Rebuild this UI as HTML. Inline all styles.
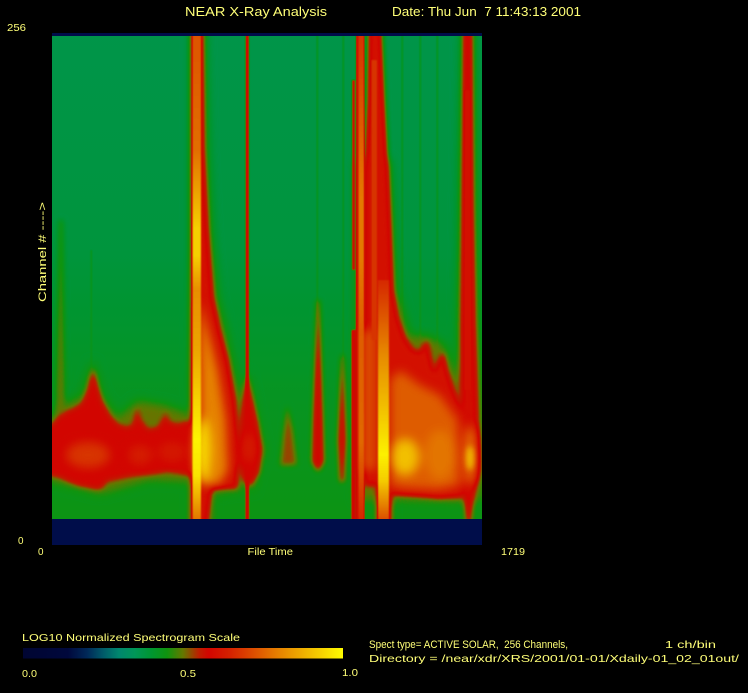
<!DOCTYPE html>
<html><head><meta charset="utf-8"><style>
html,body{margin:0;padding:0;background:#000;width:748px;height:693px;overflow:hidden}
svg{display:block}
text{font-family:"Liberation Sans",sans-serif;fill:#ffff78}
</style></head><body>
<svg width="748" height="693" viewBox="0 0 748 693" xmlns="http://www.w3.org/2000/svg">
<defs>
<filter id="cmap" filterUnits="userSpaceOnUse" x="52" y="36" width="430" height="483" color-interpolation-filters="sRGB">
<feComponentTransfer>
<feFuncR type="table" tableValues="0 0 0 0 0 0 0 0 0 .059 .392 .745 .824 .835 .855 .878 .902 .925 .949 .973 1"/>
<feFuncG type="table" tableValues=".020 .020 .024 .059 .157 .353 .529 .588 .588 .580 .471 .118 .020 .137 .255 .384 .510 .627 .745 .871 .988"/>
<feFuncB type="table" tableValues=".196 .196 .216 .255 .345 .412 .431 .345 .196 .059 0 0 0 0 0 0 0 0 0 0 0"/>
</feComponentTransfer>
</filter>
<filter id="bA" filterUnits="userSpaceOnUse" x="30" y="10" width="480" height="540" color-interpolation-filters="sRGB"><feGaussianBlur stdDeviation="0.9"/></filter>
<filter id="bB" filterUnits="userSpaceOnUse" x="30" y="10" width="480" height="540" color-interpolation-filters="sRGB"><feGaussianBlur stdDeviation="3"/></filter>
<filter id="bH" filterUnits="userSpaceOnUse" x="30" y="10" width="480" height="540" color-interpolation-filters="sRGB"><feGaussianBlur stdDeviation="5"/></filter>
<filter id="bC" filterUnits="userSpaceOnUse" x="30" y="10" width="480" height="540" color-interpolation-filters="sRGB"><feGaussianBlur stdDeviation="5"/></filter>
<linearGradient id="base" gradientUnits="userSpaceOnUse" x1="0" y1="36" x2="0" y2="519">
<stop offset="0" stop-color="rgb(37%,37%,37%)"/>
<stop offset="0.44" stop-color="rgb(38.5%,38.5%,38.5%)"/>
<stop offset="0.71" stop-color="rgb(42%,42%,42%)"/>
<stop offset="1" stop-color="rgb(44.5%,44.5%,44.5%)"/>
</linearGradient>
<linearGradient id="flareCol" gradientUnits="userSpaceOnUse" x1="0" y1="36" x2="0" y2="519">
<stop offset="0" stop-color="rgb(73%,73%,73%)"/>
<stop offset="0.236" stop-color="rgb(77%,77%,77%)"/>
<stop offset="0.40" stop-color="rgb(93%,93%,93%)"/>
<stop offset="0.453" stop-color="rgb(93%,93%,93%)"/>
<stop offset="0.526" stop-color="rgb(82%,82%,82%)"/>
<stop offset="0.65" stop-color="rgb(86%,86%,86%)"/>
<stop offset="0.836" stop-color="rgb(99%,99%,99%)"/>
<stop offset="0.909" stop-color="rgb(96%,96%,96%)"/>
<stop offset="1" stop-color="rgb(78%,78%,78%)"/>
</linearGradient>
<linearGradient id="col358" gradientUnits="userSpaceOnUse" x1="0" y1="36" x2="0" y2="519">
<stop offset="0" stop-color="rgb(68%,68%,68%)"/>
<stop offset="0.34" stop-color="rgb(79%,79%,79%)"/>
<stop offset="0.46" stop-color="rgb(79%,79%,79%)"/>
<stop offset="0.61" stop-color="rgb(74%,74%,74%)"/>
<stop offset="0.84" stop-color="rgb(76%,76%,76%)"/>
<stop offset="1" stop-color="rgb(66%,66%,66%)"/>
</linearGradient>
<linearGradient id="col383" gradientUnits="userSpaceOnUse" x1="0" y1="280" x2="0" y2="519">
<stop offset="0" stop-color="rgb(66%,66%,66%)"/>
<stop offset="0.33" stop-color="rgb(82%,82%,82%)"/>
<stop offset="0.73" stop-color="rgb(98%,98%,98%)"/>
<stop offset="0.84" stop-color="rgb(92%,92%,92%)"/>
<stop offset="1" stop-color="rgb(72%,72%,72%)"/>
</linearGradient>
<linearGradient id="cbar" x1="0" y1="0" x2="1" y2="0">
<stop offset="0" stop-color="rgb(0,5,50)"/>
<stop offset="0.14" stop-color="rgb(0,8,60)"/>
<stop offset="0.2" stop-color="rgb(0,40,88)"/>
<stop offset="0.25" stop-color="rgb(0,90,105)"/>
<stop offset="0.3" stop-color="rgb(0,135,110)"/>
<stop offset="0.35" stop-color="rgb(0,150,88)"/>
<stop offset="0.4" stop-color="rgb(0,150,50)"/>
<stop offset="0.45" stop-color="rgb(15,148,15)"/>
<stop offset="0.5" stop-color="rgb(100,120,0)"/>
<stop offset="0.55" stop-color="rgb(190,30,0)"/>
<stop offset="0.58" stop-color="rgb(210,5,0)"/>
<stop offset="0.65" stop-color="rgb(213,35,0)"/>
<stop offset="0.7" stop-color="rgb(218,65,0)"/>
<stop offset="0.8" stop-color="rgb(230,130,0)"/>
<stop offset="0.9" stop-color="rgb(242,190,0)"/>
<stop offset="1" stop-color="rgb(255,252,0)"/>
</linearGradient>
</defs>

<rect x="0" y="0" width="748" height="693" fill="#000"/>

<!-- navy strips -->
<rect x="52" y="33" width="430" height="3.5" fill="#000d4a"/>
<rect x="52" y="519" width="430" height="26" fill="#000d4a"/>

<!-- spectrogram (grayscale intensity -> colormap) -->
<g filter="url(#cmap)">
  <rect x="52" y="36" width="430" height="483" fill="url(#base)"/>
  <!-- faint lines -->
  <g filter="url(#bA)" fill="rgb(44%,44%,44%)">
    <rect x="316.5" y="30" width="1.5" height="290"/>
    <rect x="342.5" y="30" width="1.5" height="330"/>
    <rect x="401.5" y="30" width="1.5" height="495"/>
    <rect x="419.5" y="30" width="1.5" height="330"/>
    <rect x="436.5" y="30" width="1.5" height="330"/>
    <rect x="90.5" y="250" width="1.5" height="120"/>
  </g>
  <!-- olive halo -->
  <g filter="url(#bH)" fill="rgb(50%,50%,50%)">
    <path d="M52,418 L62,405 L82,396 L93,360 L102,395 L118,418 L137,400 L166,405 L194,416 L194,482 L150,480 L100,494 L46,480 L46,418 Z"/>
    <path d="M191,28 L205,28 L208,150 L212,230 L218,297 L226,330 L240,400 L242,490 L212,494 L212,526 L191,526 Z"/>
    <path d="M247,370 L264,450 L252,492 L236,462 Z"/>
    <path d="M366,160 L390,160 L397,290 L410,335 L428,335 L445,345 L465,400 L466,502 L392,500 L356,500 L356,160 Z"/>
    <path d="M462,28 L474,28 L478,320 L482,420 L482,500 L460,500 L458,330 Z"/>
  </g>
  <!-- red structures -->
  <g filter="url(#bB)">
    <path fill="rgb(60%,60%,60%)" d="M52,426 L56,420 L62,413 L72,410 L82,404 L88,390 L93,368 L97,385 L102,402 L110,416 L118,425 L128,428 L134,424 L137,407 L140,420 L148,430 L158,428 L163,420 L166,412 L168,422 L178,425 L186,422 L194,424 L194,476 L180,473 L168,471 L150,474 L130,476 L115,479 L106,481 L103,487 L98,489 L88,487 L78,485 L68,481 L60,477 L46,474 L46,426 Z"/>
    <path fill="rgb(50%,50%,50%)" d="M59.5,220 L62.5,220 L65,415 L56,415 Z"/>
    <path fill="rgb(62%,62%,62%)" d="M191.5,28 L203,28 L204,150 L208,230 L213,297 L220,330 L228,360 L235,400 L238,440 L237,488 L225,488 L212,487 L207,526 L191.5,526 Z"/>
    <path fill="rgb(60%,60%,60%)" d="M247,375 L252,398 L258,425 L262,450 L259,472 L251,486 L244,482 L238,462 L240,430 L243,400 Z"/>
    <path fill="rgb(53%,53%,53%)" d="M287,405 L293,430 L297,465 L280,466 L283,435 Z"/>
    <path fill="rgb(60%,60%,60%)" d="M317,300 L319.5,300 L323,420 L324,462 L318,472 L312,462 L313,420 Z"/>
    <path fill="rgb(60%,60%,60%)" d="M341.5,355 L343.5,355 L346,440 L344,482 L340,482 L338,440 Z"/>
    <path fill="rgb(62%,62%,62%)" d="M368,28 L382,28 L385,100 L388,160 L391,230 L393,290 L398,318 L405,338 L413,350 L420,352 L424,345 L427,340 L430,355 L434,372 L438,362 L443,352 L447,370 L453,388 L460,405 L463,430 L463,497 L440,498 L420,496 L392,494 L391,526 L377,526 L377,485 L364,485 L364,170 L367,100 Z"/>
    <path fill="rgb(61%,61%,61%)" d="M463.5,28 L472,28 L473,200 L475,320 L478,420 L479,470 L474,495 L470,526 L467,526 L464,495 L461,460 L461,330 L462,200 Z"/>
  </g>
  <!-- sharp columns -->
  <g filter="url(#bA)">
    <rect x="245.5" y="28" width="3.5" height="498" fill="rgb(60%,60%,60%)"/>
    <rect x="352" y="80" width="3" height="190" fill="rgb(58%,58%,58%)"/>
    <rect x="351.5" y="330" width="4" height="196" fill="rgb(60%,60%,60%)"/>
    <rect x="356" y="28" width="8" height="498" fill="rgb(62%,62%,62%)"/>
    <rect x="464.5" y="90" width="6" height="300" fill="rgb(62%,62%,62%)"/>
  </g>
  <!-- orange / yellow regions -->
  <g filter="url(#bC)">
    <ellipse cx="88" cy="455" rx="22" ry="13" fill="rgb(68%,68%,68%)"/>
    <ellipse cx="140" cy="455" rx="12" ry="10" fill="rgb(64%,64%,64%)"/>
    <ellipse cx="172" cy="452" rx="14" ry="10" fill="rgb(63%,63%,63%)"/>
    <path fill="rgb(80%,80%,80%)" d="M200,300 L208,330 L218,370 L226,420 L228,470 L220,484 L200,486 Z"/>
    <ellipse cx="203" cy="450" rx="8" ry="32" fill="rgb(94%,94%,94%)"/>
    <ellipse cx="249" cy="448" rx="4" ry="15" fill="rgb(66%,66%,66%)"/>
    <rect x="362" y="330" width="14" height="140" fill="rgb(72%,72%,72%)"/>
    <path fill="rgb(74%,74%,74%)" d="M390,380 L400,370 L420,385 L440,395 L458,420 L460,485 L440,490 L400,488 L390,485 Z"/>
    <ellipse cx="405" cy="457" rx="14" ry="18" fill="rgb(90%,90%,90%)"/>
    <ellipse cx="440" cy="455" rx="15" ry="25" fill="rgb(78%,78%,78%)"/>
    <ellipse cx="470" cy="455" rx="6" ry="30" fill="rgb(78%,78%,78%)"/>
  </g>
  <g filter="url(#bA)">
    <rect x="192.5" y="28" width="8.5" height="498" fill="url(#flareCol)"/>
    <rect x="358.5" y="28" width="5.5" height="498" fill="url(#col358)"/>
    <rect x="371.5" y="60" width="5.5" height="280" fill="rgb(68%,68%,68%)"/>
    <rect x="378" y="280" width="11" height="246" fill="url(#col383)"/>
  </g>
  <g filter="url(#bB)">
    <ellipse cx="470" cy="458" rx="3.5" ry="12" fill="rgb(90%,90%,90%)"/>
  </g>
</g>

<!-- colorbar -->
<rect x="23" y="648" width="320" height="10.5" fill="url(#cbar)"/>

<!-- text -->
<text x="185" y="16" font-size="12.5" textLength="142" lengthAdjust="spacingAndGlyphs">NEAR X-Ray Analysis</text>
<text x="392" y="16" font-size="12.5" textLength="189" lengthAdjust="spacingAndGlyphs" xml:space="preserve">Date: Thu Jun  7 11:43:13 2001</text>
<text x="7" y="31" font-size="10.5" textLength="19" lengthAdjust="spacingAndGlyphs">256</text>
<text x="18" y="544" font-size="10.5" textLength="5.5" lengthAdjust="spacingAndGlyphs">0</text>
<text x="38" y="555" font-size="10.5" textLength="5.5" lengthAdjust="spacingAndGlyphs">0</text>
<text x="247.5" y="555" font-size="10.5" textLength="45.5" lengthAdjust="spacingAndGlyphs">File Time</text>
<text x="501" y="555" font-size="10.5" textLength="24" lengthAdjust="spacingAndGlyphs">1719</text>
<text transform="translate(46,302) rotate(-90)" font-size="11" textLength="100" lengthAdjust="spacingAndGlyphs">Channel # ----&gt;</text>
<text x="22" y="641" font-size="10.5" textLength="218" lengthAdjust="spacingAndGlyphs">LOG10 Normalized Spectrogram Scale</text>
<text x="22" y="677" font-size="10.5" textLength="15" lengthAdjust="spacingAndGlyphs">0.0</text>
<text x="180" y="677" font-size="10.5" textLength="16" lengthAdjust="spacingAndGlyphs">0.5</text>
<text x="342" y="676" font-size="10.5" textLength="16" lengthAdjust="spacingAndGlyphs">1.0</text>
<text x="369" y="648" font-size="11" textLength="199" lengthAdjust="spacingAndGlyphs" xml:space="preserve">Spect type= ACTIVE SOLAR,  256 Channels,</text>
<text x="665" y="648" font-size="10.5" textLength="51" lengthAdjust="spacingAndGlyphs">1 ch/bin</text>
<text x="369" y="662" font-size="10.5" textLength="370" lengthAdjust="spacingAndGlyphs">Directory = /near/xdr/XRS/2001/01-01/Xdaily-01_02_01out/</text>
</svg>
</body></html>
